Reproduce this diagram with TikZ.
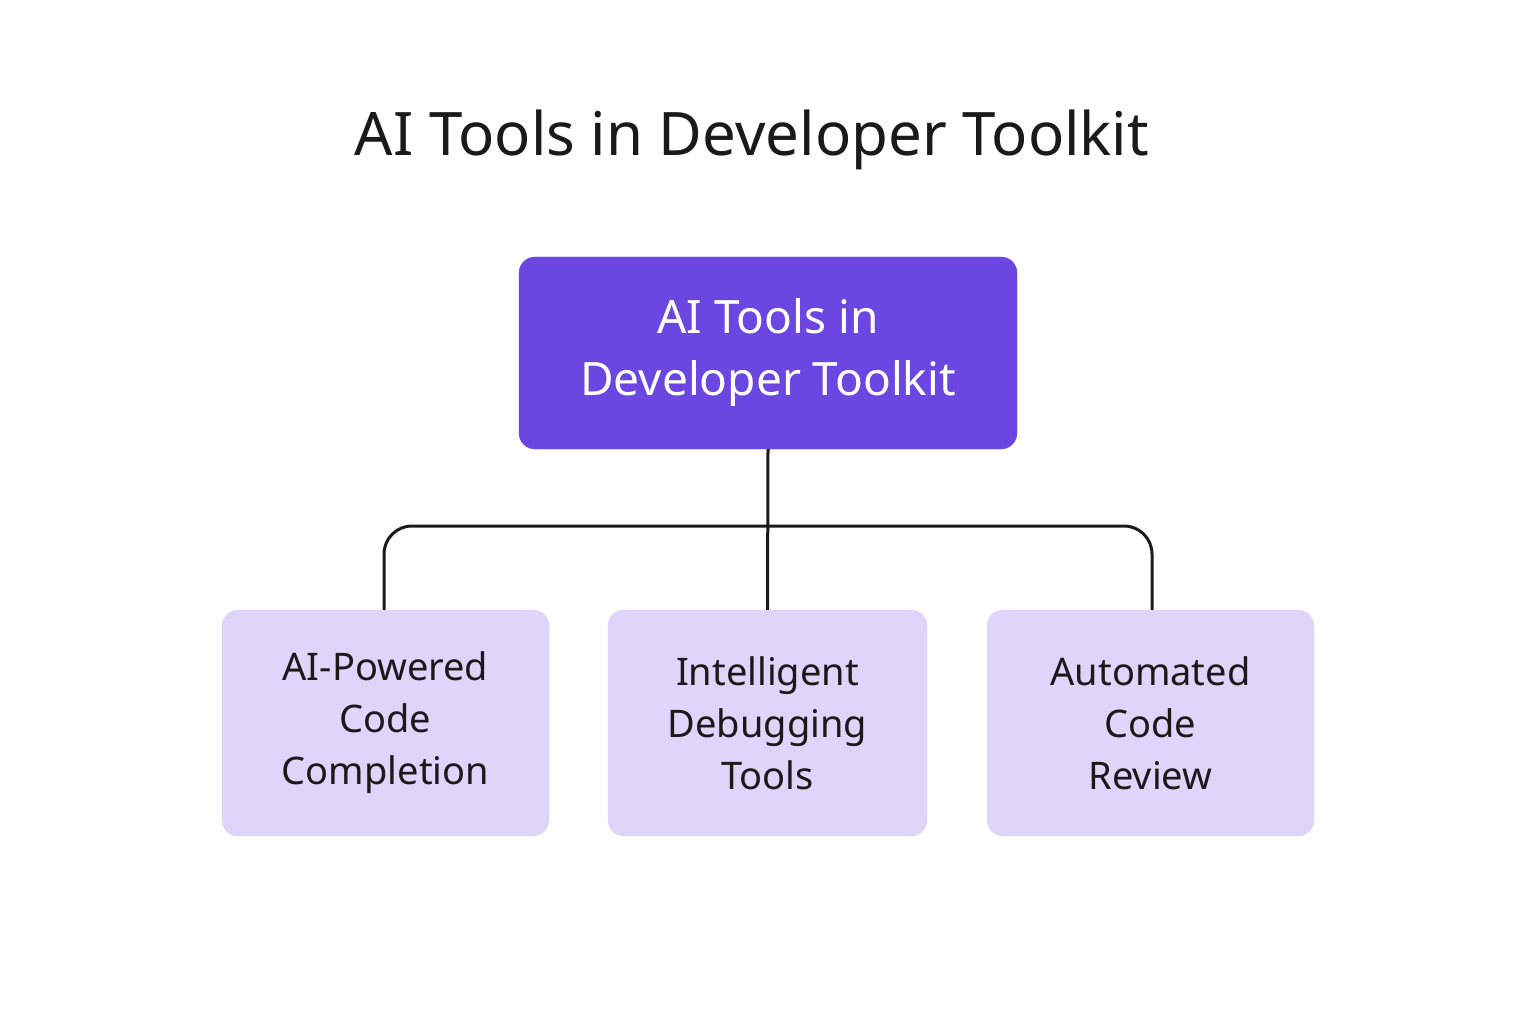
\documentclass[tikz,border=0pt]{standalone}
\usepackage{fontspec}
\setmainfont{Noto Sans}
\definecolor{topc}{HTML}{6B46E0}
\definecolor{childc}{HTML}{DDD5FA}
\definecolor{txt}{HTML}{1A1A1A}
\begin{document}
\begin{tikzpicture}[x=1pt,y=-1pt,
  topbox/.style={fill=topc,draw=topc,rounded corners=16pt,minimum width=498pt,minimum height=192pt,text=white,align=center,font=\fontsize{46}{62}\selectfont},
  childbox/.style={fill=childc,draw=childc,rounded corners=16pt,minimum height=226pt,text=txt,align=center,font=\fontsize{38}{52}\selectfont},
  conn/.style={line width=3pt,draw=txt}]
\useasboundingbox[fill=white] (0,0) rectangle (1536,1024);
\node[font=\fontsize{60}{70}\selectfont\bfseries,text=txt] (title) at (752,140) {AI Tools in Developer Toolkit};
\node[topbox] (top) at (768,353) {AI Tools in\\Developer Toolkit};
\node[childbox,minimum width=327pt] (c1) at (385.5,723) {AI-Powered\\Code\\Completion};
\node[childbox,minimum width=319pt] (c2) at (767.5,723) {Intelligent\\Debugging\\Tools};
\node[childbox,minimum width=327pt] (c3) at (1150.5,723) {Automated\\Code\\Review};
\draw[conn] (top.south) -- (c2.north);
\draw[conn,rounded corners=28pt] (c1.north -| 384,0) -- (384,526) -- (1152,526) -- (c3.north -| 1152,0);
\end{tikzpicture}
\end{document}
